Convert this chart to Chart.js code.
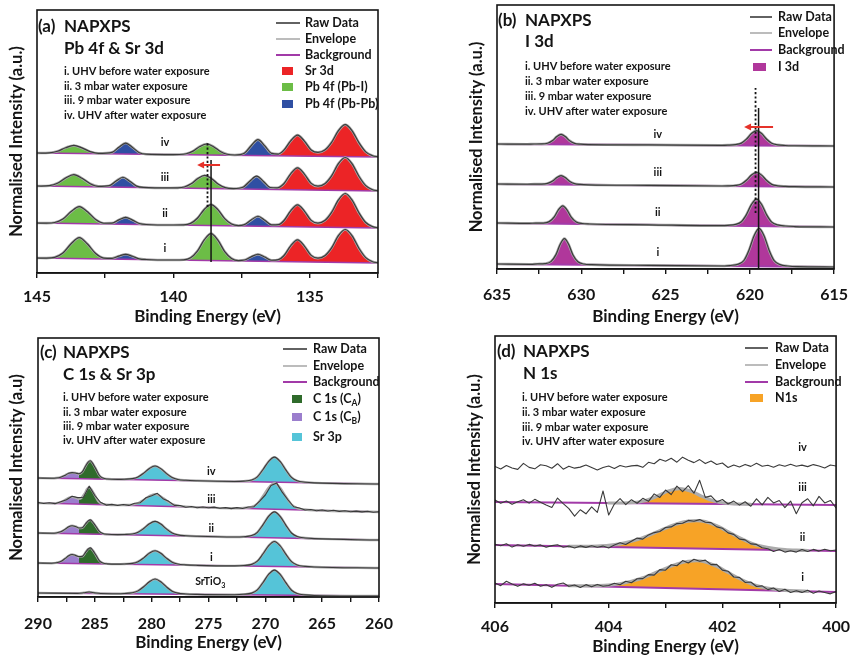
<!DOCTYPE html>
<html><head><meta charset="utf-8"><title>NAPXPS spectra</title>
<script src="https://cdn.jsdelivr.net/npm/chart.js@4.4.1/dist/chart.umd.min.js"></script>
<style>
html,body{margin:0;padding:0;background:#fff}
#wrap{position:relative;width:859px;height:657px;overflow:hidden;background:#fff}
#wrap canvas{position:absolute;left:0;top:0;width:859px;height:657px}
</style></head><body><div id="wrap">
<canvas id="ca" width="859" height="657"></canvas>
<canvas id="cb" width="859" height="657"></canvas>
<canvas id="cc" width="859" height="657"></canvas>
<canvas id="cd" width="859" height="657"></canvas>
</div>
<script>
// ------------------------------------------------------------------ DATA
const conditionText = ['i. UHV before water exposure','ii. 3 mbar water exposure','iii. 9 mbar water exposure','iv. UHV after water exposure'];
const traceNames = ['i','ii','iii','iv'];
const xTitle = 'Binding Energy (eV)';

// ---- (a) Pb 4f & Sr 3d : [binding energy, intensity above background]
const aBackground = [[15,10],[50,45],[87,82],[120,116]]; // at 145 eV and 132.5 eV
const aTrace_i = [[145,0],[144.65,0],[144.35,0.9],[144.05,5.3],[143.75,14.7],[143.45,21],[143.15,14.7],[142.85,5.3],[142.55,0.9],
 [142.25,0.8],[142.0,3.1],[141.75,5],[141.5,3.1],[141.25,0.7],[141.0,0.1],[140.0,0],
 [139.62,0.35],[139.37,2.4],[139.12,9.2],[138.87,20.5],[138.62,27],[138.37,20.5],[138.12,9.2],[137.87,2.4],[137.62,0.4],
 [137.4,1.0],[137.15,4.3],[136.9,7],[136.65,4.3],[136.4,1.2],[136.15,1.9],
 [135.95,5.9],[135.7,15.9],[135.45,22],[135.2,15.9],[134.95,6.6],[134.7,4.0],
 [134.45,6.5],[134.2,14.5],[133.95,26.8],[133.7,33],[133.45,26.8],[133.2,14.5],[132.95,5.2],[132.7,1.2],[132.5,0.2]];
const aTrace_ii = [[145,0],[144.65,0],[144.35,0.75],[144.05,4.3],[143.75,11.9],[143.45,17],[143.15,11.9],[142.85,4.3],[142.55,0.75],
 [142.25,1.0],[142.0,4.3],[141.75,7],[141.5,4.3],[141.25,1.0],[141.0,0.1],[140.0,0],
 [139.62,0.3],[139.37,1.85],[139.12,7.1],[138.87,16],[138.62,21],[138.37,16],[138.12,7.1],[137.87,1.85],[137.62,0.4],
 [137.4,1.4],[137.15,6.1],[136.9,10],[136.65,6.1],[136.4,1.6],[136.15,1.9],
 [135.95,5.9],[135.7,15.9],[135.45,22],[135.2,15.9],[134.95,6.6],[134.7,4.0],
 [134.45,6.7],[134.2,15],[133.95,27.5],[133.7,34],[133.45,27.5],[133.2,15],[132.95,5.3],[132.7,1.3],[132.5,0.2]];
const aTrace_iii = [[145,0],[144.85,0],[144.55,0.5],[144.25,3.0],[143.95,8.4],[143.65,12],[143.35,8.4],[143.05,3.0],[142.75,0.5],
 [142.35,1.35],[142.1,6.1],[141.85,10],[141.6,6.1],[141.35,1.35],[141.1,0.1],[140.1,0],
 [139.85,0.2],[139.6,1.15],[139.35,4.4],[139.1,9.9],[138.85,13],[138.6,9.9],[138.35,4.4],[138.1,1.15],[137.8,0.3],
 [137.45,1.75],[137.2,7.9],[136.95,13],[136.7,7.9],[136.45,1.9],[136.2,1.7],
 [135.95,5.9],[135.7,15.9],[135.45,22],[135.2,15.9],[134.95,6.6],[134.7,4.0],
 [134.45,6.5],[134.2,14.5],[133.95,26.8],[133.7,33],[133.45,26.8],[133.2,14.5],[132.95,5.2],[132.7,1.2],[132.5,0.2]];
const aTrace_iv = [[145,0],[144.85,0],[144.55,0.35],[144.25,2.0],[143.95,5.6],[143.65,8],[143.35,5.6],[143.05,2.0],[142.75,0.35],
 [142.25,1.5],[142.0,6.7],[141.75,11],[141.5,6.7],[141.25,1.5],[141.0,0.1],[140.0,0],
 [139.78,0.15],[139.53,1.0],[139.28,3.7],[139.03,8.4],[138.78,11],[138.53,8.4],[138.28,3.7],[138.03,1.0],[137.75,0.3],
 [137.4,2.2],[137.15,9.8],[136.9,16],[136.65,9.8],[136.4,2.4],[136.15,1.8],
 [135.95,5.7],[135.7,15.1],[135.45,21],[135.2,15.1],[134.95,6.3],[134.7,3.9],
 [134.45,6.3],[134.2,14.1],[133.95,25.9],[133.7,32],[133.45,25.9],[133.2,14.1],[132.95,5.0],[132.7,1.2],[132.5,0.2]];
const aComponentRanges = [[145,142.45,'Pb 4f (Pb-I)'],[142.45,140.3,'Pb 4f (Pb-Pb)'],[140.3,137.7,'Pb 4f (Pb-I)'],[137.7,136.3,'Pb 4f (Pb-Pb)'],[136.3,132.5,'Sr 3d']];
const aLegend = ['Raw Data','Envelope','Background','Sr 3d','Pb 4f (Pb-I)','Pb 4f (Pb-Pb)'];
const aLabelEnergy = 140.31;
const aLabelLevel = [25,60,96,131];
const aShift = {solid:138.62, solidFrom:11, solidTo:113, dotted:138.75, dottedFrom:66, dottedTo:130, arrowLevel:108, arrowFrom:138.29, arrowTo:139.13};

// ---- (b) I 3d
const bBackground = [[5,2],[46,42],[85,82],[125,123]]; // at 635 eV and 615 eV
const bTrace_i = [[635,0],[633,0],[632.6,0.4],[632.15,0.8],[631.8,2.9],[631.5,9.9],[631.25,20.3],[631.0,26],[630.75,20.3],[630.5,9.9],[630.2,2.9],[629.85,0.8],[629.4,0.2],[626,0],
 [621.5,0],[621.15,0.6],[620.7,1.9],[620.35,5.7],[620.05,16],[619.75,30.4],[619.45,38],[619.15,30.4],[618.85,16],[618.55,5.7],[618.2,1.9],[617.75,0.6],[617.2,0],[615,0]];
const bTrace_ii = [[635,0],[633.1,0],[632.7,0.3],[632.25,0.5],[631.9,2.0],[631.6,6.8],[631.35,14],[631.1,18],[630.85,14],[630.6,6.8],[630.3,2.0],[629.95,0.5],[629.5,0.1],[626,0],
 [621.65,0],[621.3,0.4],[620.85,1.4],[620.5,4.1],[620.2,11.3],[619.9,21.6],[619.6,27],[619.3,21.6],[619.0,11.3],[618.7,4.1],[618.35,1.4],[617.9,0.4],[617.35,0],[615,0]];
const bTrace_iii = [[635,0],[633.2,0],[632.8,0.2],[632.35,0.3],[632.0,1.0],[631.7,3.4],[631.45,7],[631.2,9],[630.95,7],[630.7,3.4],[630.4,1.0],[630.05,0.3],[629.6,0],[626,0],
 [621.65,0],[621.3,0.2],[620.85,0.7],[620.5,2.1],[620.2,5.9],[619.9,11.2],[619.6,14],[619.3,11.2],[619.0,5.9],[618.7,2.1],[618.35,0.7],[617.9,0.2],[617.35,0],[615,0]];
const bTrace_iv = [[635,0],[633.2,0],[632.8,0.2],[632.35,0.3],[632.0,1.1],[631.7,3.8],[631.45,7.8],[631.2,10],[630.95,7.8],[630.7,3.8],[630.4,1.1],[630.05,0.3],[629.6,0],[626,0],
 [621.65,0],[621.3,0.2],[620.85,0.8],[620.5,2.3],[620.2,6.3],[619.9,12],[619.6,15],[619.3,12],[619.0,6.3],[618.7,2.3],[618.35,0.8],[617.9,0.2],[617.35,0],[615,0]];
const bComponentRanges = [[635,615,'I 3d']];
const bLegend = ['Raw Data','Envelope','Background','I 3d'];
const bLabelEnergy = 625.46;
const bLabelLevel = [17,57,97,135];
const bShift = {solid:619.48, solidFrom:0, solidTo:161, dotted:619.66, dottedFrom:56, dottedTo:181, arrowLevel:142, arrowFrom:618.62, arrowTo:620.34};

// ---- (c) C 1s & Sr 3p
const cBackground = [[34,29],[64,57],[94,85],[119,113],[4,1]]; // i, ii, iii, iv, SrTiO3 at 290 eV and 260 eV
const cTrace_i = [[290,0],[288.8,0],[288.4,0.45],[288.0,1.8],[287.6,5],[287.3,7.7],[287.0,9],[286.7,8.2],[286.4,7.0],[286.1,7.3],[285.8,11.6],[285.6,14.5],[285.4,15.9],[285.15,13],[284.9,8.6],[284.6,3.1],[284.3,0.9],[283.9,0.15],[283.0,0],
 [282.4,0.3],[281.7,1.0],[281.2,2.8],[280.7,6.7],[280.2,11.5],[279.7,14],[279.2,11.5],[278.7,6.7],[278.2,2.8],[277.7,1.0],[277.0,0.3],[276.0,0],
 [272.7,0],[271.9,0.5],[271.2,1.75],[270.7,5],[270.2,12.5],[269.7,20.8],[269.2,25],[268.7,20.8],[268.2,12.5],[267.7,5],[267.2,1.75],[266.5,0.5],[265.7,0],[260,0]];
const cCB_i = [[288.8,0],[288.4,0.45],[288.0,1.8],[287.6,5],[287.3,7.7],[287.0,9],[286.7,7.7],[286.4,5],[286.1,2.3],[285.8,0.9],[285.4,0.2],[285.0,0]];
const cTrace_ii = [[290,0],[288.8,0],[288.4,0.4],[288.0,1.6],[287.6,4.4],[287.3,6.9],[287.0,8],[286.7,7.3],[286.4,5.9],[286.1,6.2],[285.8,10.3],[285.6,12.9],[285.4,14.2],[285.15,11.6],[284.9,7.7],[284.6,2.8],[284.3,0.8],[283.9,0.1],[283.0,0],
 [282.4,0.3],[281.7,1.0],[281.2,2.8],[280.7,6.7],[280.2,11.5],[279.7,14],[279.2,11.5],[278.7,6.7],[278.2,2.8],[277.7,1.0],[277.0,0.3],[276.0,0],
 [272.7,0],[271.9,0.5],[271.2,1.8],[270.7,5.2],[270.2,13],[269.7,21.6],[269.2,26],[268.7,21.6],[268.2,13],[267.7,5.2],[267.2,1.8],[266.5,0.5],[265.7,0],[260,0]];
const cCB_ii = [[288.8,0],[288.4,0.4],[288.0,1.6],[287.6,4.4],[287.3,6.9],[287.0,8],[286.7,6.9],[286.4,4.4],[286.1,2],[285.8,0.8],[285.4,0.2],[285.0,0]];
const cTrace_iii = [[290,0],[288.8,0],[288.4,0.35],[288.0,1.4],[287.6,3.9],[287.3,6],[287.0,7],[286.7,6.2],[286.4,5.3],[286.2,6.0],[285.9,10.5],[285.7,15],[285.5,17.2],[285.25,14.1],[285.0,9.4],[284.7,3.4],[284.4,1.0],[284.0,0.2],[283.0,0],
 [282.4,0.25],[281.7,0.9],[281.2,2.4],[280.7,5.8],[280.2,9.8],[279.7,12],[279.2,9.8],[278.7,5.8],[278.2,2.4],[277.7,0.9],[277.0,0.25],[276.0,0],
 [272.7,0],[271.9,0.5],[271.2,1.8],[270.7,5.2],[270.2,13],[269.7,21.6],[269.2,26],[268.7,21.6],[268.2,13],[267.7,5.2],[267.2,1.8],[266.5,0.5],[265.7,0],[260,0]];
const cCB_iii = [[288.8,0],[288.4,0.35],[288.0,1.4],[287.6,3.9],[287.3,6],[287.0,7],[286.7,6],[286.4,3.9],[286.1,1.8],[285.8,0.7],[285.4,0.15],[285.0,0]];
const cRaw_iii = [[290,0.5],[289.5,-0.4],[289,0.6],[288.5,-0.2],[288,1.9],[287.5,4.0],[287,7.6],[286.5,6.4],[286,7.0],[285.5,18.2],[285,9.0],[284.5,2.4],[284,-0.3],[283.5,0.6],[283,-0.4],
 [282.5,0.8],[282,0.0],[281.5,2.3],[281,3.0],[280.5,8.1],[280,10.3],[279.5,12.8],[279,7.6],[278.5,5.1],[278,1.2],[277.5,1.3],[277,-0.4],[276.5,0.5],[276,-0.5],[275.5,0.4],
 [275,-0.3],[274.5,0.5],[274,-0.4],[273.5,0.3],[273,-0.5],[272.5,0.6],[272,-0.1],[271.5,1.6],[271,2.0],[270.5,7.8],[270,14.0],[269.5,23.6],[269,26.2],[268.5,17.0],[268,9.6],
 [267.5,3.0],[267,1.9],[266.5,0.0],[266,0.7],[265.5,-0.4],[265,0.5],[264.5,-0.3],[264,0.6],[263.5,-0.4],[263,0.4],[262.5,-0.5],[262,0.3],[261.5,-0.3],[261,0.5],[260.5,-0.4],[260,0.2]];
const cTrace_iv = [[290,0],[288.8,0],[288.4,0.3],[288.0,1.2],[287.6,3.3],[287.3,5.2],[287.0,6],[286.7,5.7],[286.4,4.9],[286.1,6.9],[285.8,13],[285.6,16.6],[285.4,18.2],[285.15,14.9],[284.9,9.9],[284.6,3.6],[284.3,1.1],[283.9,0.2],[283.0,0],
 [282.4,0.3],[281.7,1.0],[281.2,2.8],[280.7,6.7],[280.2,11.5],[279.7,14],[279.2,11.5],[278.7,6.7],[278.2,2.8],[277.7,1.0],[277.0,0.3],[276.0,0],
 [272.7,0],[271.9,0.5],[271.2,1.75],[270.7,5],[270.2,12.5],[269.7,20.8],[269.2,25],[268.7,20.8],[268.2,12.5],[267.7,5],[267.2,1.75],[266.5,0.5],[265.7,0],[260,0]];
const cCB_iv = [[288.8,0],[288.4,0.3],[288.0,1.2],[287.6,3.3],[287.3,5.2],[287.0,6],[286.7,5.2],[286.4,3.3],[286.1,1.5],[285.8,0.6],[285.4,0.1],[285.0,0]];
const cTrace_SrTiO3 = [[290,0],[286.5,0],[286.0,0.6],[285.5,1.5],[285.0,0.6],[284.5,0],[283.0,0],
 [282.4,0.3],[281.7,1.1],[281.2,3.0],[280.7,7.2],[280.2,12.3],[279.7,15],[279.2,12.3],[278.7,7.2],[278.2,3.0],[277.7,1.1],[277.0,0.3],[276.0,0],
 [272.7,0],[271.9,0.5],[271.2,1.75],[270.7,5],[270.2,12.5],[269.7,20.8],[269.2,25],[268.7,20.8],[268.2,12.5],[267.7,5],[267.2,1.75],[266.5,0.5],[265.7,0],[260,0]];
const cComponentRanges = [[286.3,283.5,'C 1s (CA)'],[283.0,260,'Sr 3p']];
const cLegend = ['Raw Data','Envelope','Background','C 1s (CA)','C 1s (CB)','Sr 3p'];
const cLabelEnergy = 274.75;
const cLabelLevel = [40,69,98,126];
const cSubstrateLabel = {energy:274.85, level:15};

// ---- (d) N 1s
const dBackground = [[19,11],[58,52],[101,98],[136,137.5]]; // at 406 eV and 400 eV
const dEnergy = [406.0,405.9,405.8,405.7,405.6,405.5,405.4,405.3,405.2,405.1,
 405.0,404.9,404.8,404.7,404.6,404.5,404.4,404.3,404.2,404.1,
 404.0,403.9,403.8,403.7,403.6,403.5,403.4,403.3,403.2,403.1,
 403.0,402.9,402.8,402.7,402.6,402.5,402.4,402.3,402.2,402.1,
 402.0,401.9,401.8,401.7,401.6,401.5,401.4,401.3,401.2,401.1,
 401.0,400.9,400.8,400.7,400.6,400.5,400.4,400.3,400.2,400.1,400.0];
const dRaw_i = [1.0,-1.5,3.0,0.5,-1.8,0.8,-0.5,1.6,-1.2,0.4,
 -2.0,1.2,2.6,-0.6,0.9,-1.4,1.5,-0.4,2.0,0.3,
 1.2,3.6,2.2,5.8,4.5,8.6,8.8,13.0,12.6,18.2,
 17.8,23.4,22.5,27.8,25.6,29.4,27.6,28.8,24.4,24.8,
 19.2,18.3,12.6,12.4,7.4,8.0,3.6,4.4,0.8,2.6,
 -0.8,1.5,-1.6,0.4,-1.2,1.0,-1.8,0.6,-0.7,-2.0,0.5];
const dRaw_ii = [0.8,-0.6,1.5,-1.8,0.6,-0.8,1.2,-0.3,0.9,-1.4,
 0.4,1.3,-1.0,0.2,-1.5,0.6,-0.8,1.0,-0.4,0.8,
 -0.9,2.2,4.5,2.8,6.2,9.4,8.5,12.8,15.2,16.4,
 20.5,21.2,24.6,25.0,28.0,27.2,29.0,26.4,26.2,22.0,
 20.8,16.2,14.8,10.2,9.5,5.6,5.2,2.0,1.0,-1.5,
 0.4,-2.0,-0.5,-1.8,0.8,-0.9,1.2,-0.4,1.6,0.2,1.0];
const dRaw_iii = [2.0,-1.2,1.0,-2.2,0.5,2.5,-0.8,3.0,0.2,-2.5,
 -5.0,4.5,-1.0,-6.0,-13.5,-7.0,-11.0,-4.0,-9.5,12.0,
 -12.0,-1.0,4.5,-1.5,3.5,0.0,5.0,2.0,9.5,6.0,
 13.5,9.0,17.5,12.0,18.0,10.5,23.5,6.5,8.0,2.0,
 4.5,0.0,3.0,-1.0,2.5,-2.0,5.5,-0.5,7.0,1.5,
 4.0,-3.0,3.5,-9.0,2.0,6.0,-1.0,8.5,2.0,4.5,-3.0];
const dRaw_iv = [0.5,-2.0,1.5,-1.0,-2.5,3.5,-0.5,-2.0,2.0,1.0,
 -1.5,3.0,-2.5,0.5,-1.5,-0.5,1.5,-1.0,-3.5,-1.0,
 0.5,-2.0,1.0,-0.5,0.5,1.0,-1.0,4.0,2.5,7.0,
 5.0,8.0,4.0,9.0,6.0,3.5,6.5,2.5,5.0,1.5,
 3.0,-1.5,1.0,-1.0,1.5,-0.5,2.5,-0.5,0.5,-1.5,
 1.0,-0.5,1.5,-0.5,0.5,-1.0,1.0,-0.5,-2.5,0.5,-0.5];
const dEnv_i = [[404.7,0],[404.4,0.3],[404.2,0.8],[404.0,1.6],[403.8,3.2],[403.6,5.9],[403.4,9.6],[403.2,14.4],[403.0,19.6],[402.8,24.2],[402.6,27.3],[402.45,28],[402.3,27.0],[402.1,22.9],[401.9,17.0],[401.7,11.1],[401.5,6.3],[401.3,3.1],[401.1,1.4],[400.9,0.5],[400.7,0.1],[400.5,0]];
const dEnv_ii = [[404.7,0],[404.4,0.3],[404.2,0.8],[404.0,1.7],[403.8,3.4],[403.6,6.1],[403.4,9.9],[403.2,14.7],[403.0,19.8],[402.8,24.3],[402.6,27.3],[402.45,28],[402.3,27.1],[402.1,23.2],[401.9,17.4],[401.7,11.5],[401.5,6.6],[401.3,3.3],[401.1,1.5],[400.9,0.5],[400.7,0.1],[400.5,0]];
const dEnv_iii = [[404.0,0],[403.75,0.15],[403.55,0.75],[403.35,2.9],[403.15,7.2],[402.95,12.5],[402.75,15],[402.55,12.5],[402.35,7.2],[402.15,2.9],[401.95,0.75],[401.75,0.15],[401.5,0]];
const dComponentRanges = [[406,400,'N1s']];
const dLegend = ['Raw Data','Envelope','Background','N1s'];
const dLabelEnergy = 400.59;
const dLabelLevel = [26,66,116,156];

// ------------------------------------------------------------------ STYLE
const FONT = 'Lato, "Open Sans", "DejaVu Sans", sans-serif';
const INK = '#141414';
const RAW_COLOR = '#3a3a3a', ENV_COLOR = '#ababab', BG_COLOR = '#a23aa8', ARROW_COLOR = '#e5322a';
const COLORS = {'Sr 3d':'#ec2426','Pb 4f (Pb-I)':'#6cbd46','Pb 4f (Pb-Pb)':'#2f4fa3','I 3d':'#b0379b',
  'C 1s (CA)':'#2f6b2b','C 1s (CB)':'#9b7ecd','Sr 3p':'#55c4d8','N1s':'#f7a326'};
const LINE_COLORS = {'Raw Data':RAW_COLOR,'Envelope':ENV_COLOR,'Background':BG_COLOR};
function labelParts(name){
  if (name==='C 1s (CA)') return [['C 1s (C',0],['A',1],[')',0]];
  if (name==='C 1s (CB)') return [['C 1s (C',0],['B',1],[')',0]];
  return [[name,0]];
}

// ------------------------------------------------------------------ HELPERS
function place(pts, bg, P){
  return pts.map(p => ({x:p[0], y: bg[0] + (bg[1]-bg[0])*(P.xFrom-p[0])/(P.xFrom-P.xTo) + p[1]}));
}
function cut(pts, hi, lo){
  let s = pts.findIndex(p => p[0] <= hi); let e = -1;
  pts.forEach((p,i) => { if (p[0] >= lo) e = i; });
  s = Math.max(0, s-1); e = Math.min(pts.length-1, e+1);
  return pts.slice(s, e+1);
}
function partsFrom(ranges){ return ranges.map(r => ({hi:r[0], lo:r[1], color:COLORS[r[2]], order:5})); }
function pairs(energy, vals){ return energy.map((E,k) => [E, vals[k]]); }

function buildDatasets(P){
  const ds = [];
  P.traces.forEach(t => {
    const bgIdx = ds.length;
    ds.push({data:[{x:P.xFrom,y:t.bg[0]},{x:P.xTo,y:t.bg[1]}], borderColor: t.noBg ? 'rgba(0,0,0,0)' : BG_COLOR,
      borderWidth:P.bgWidth, fill:false, order:3, tension:0});
    (t.parts || []).forEach(pt => {
      const src = pt.pts ? pt.pts : cut(t.env, pt.hi, pt.lo);
      ds.push({data:place(src, t.bg, P), borderColor:'rgba(0,0,0,0)', borderWidth:0, backgroundColor:pt.color,
        fill:bgIdx, order:pt.order, cubicInterpolationMode:'monotone'});
    });
    if (t.env) ds.push({data:place(t.env, t.bg, P), borderColor:ENV_COLOR, borderWidth:P.envWidth, fill:false, order:2, cubicInterpolationMode:'monotone'});
    const rawSrc = t.raw || t.env;
    const rawDs = {data:place(rawSrc, t.bg, P), borderColor:RAW_COLOR, borderWidth:P.rawWidth, fill:false, order:1};
    if (t.raw) rawDs.tension = 0; else rawDs.cubicInterpolationMode = 'monotone';
    ds.push(rawDs);
  });
  return ds;
}

function richWidth(ctx, parts, size){
  let w = 0;
  parts.forEach(([s,sub]) => { ctx.font = `bold ${sub ? size*0.68 : size}px ${FONT}`; w += ctx.measureText(s).width; });
  return w;
}
function drawRich(ctx, parts, x, y, size, align){
  const w = richWidth(ctx, parts, size);
  let cx = align === 'center' ? x - w/2 : x;
  ctx.textAlign = 'left';
  parts.forEach(([s,sub]) => {
    ctx.font = `bold ${sub ? size*0.68 : size}px ${FONT}`;
    ctx.fillText(s, cx, sub ? y + size*0.32 : y);
    cx += ctx.measureText(s).width;
  });
}

function overlay(P){
  return {id:'overlay_'+P.key, afterDraw(chart){
    const ctx = chart.ctx, xs = chart.scales.x, ys = chart.scales.y, a = chart.chartArea, T = P.text;
    ctx.save();
    if (P.shift){
      const S = P.shift;
      ctx.strokeStyle = INK;
      ctx.lineWidth = 1.5; ctx.setLineDash([]);
      ctx.beginPath(); ctx.moveTo(xs.getPixelForValue(S.solid), ys.getPixelForValue(S.solidFrom));
      ctx.lineTo(xs.getPixelForValue(S.solid), ys.getPixelForValue(S.solidTo)); ctx.stroke();
      ctx.lineWidth = 1.8; ctx.setLineDash([2.2,2.2]);
      ctx.beginPath(); ctx.moveTo(xs.getPixelForValue(S.dotted), ys.getPixelForValue(S.dottedFrom));
      ctx.lineTo(xs.getPixelForValue(S.dotted), ys.getPixelForValue(S.dottedTo)); ctx.stroke();
      ctx.setLineDash([]);
      const ay = ys.getPixelForValue(S.arrowLevel), ax0 = xs.getPixelForValue(S.arrowFrom), ax1 = xs.getPixelForValue(S.arrowTo);
      ctx.strokeStyle = ARROW_COLOR; ctx.fillStyle = ARROW_COLOR; ctx.lineWidth = 2;
      ctx.beginPath(); ctx.moveTo(ax0, ay); ctx.lineTo(ax1 + 5, ay); ctx.stroke();
      ctx.beginPath(); ctx.moveTo(ax1, ay); ctx.lineTo(ax1 + 7, ay - 3.5); ctx.lineTo(ax1 + 7, ay + 3.5); ctx.closePath(); ctx.fill();
    }
    ctx.strokeStyle = INK; ctx.lineWidth = 1.6;
    ctx.strokeRect(a.left, a.top, a.right - a.left, a.bottom - a.top);
    ctx.fillStyle = INK; ctx.textBaseline = 'middle'; ctx.textAlign = 'left';
    ctx.font = `bold 17px ${FONT}`;
    ctx.fillText(P.letter, T.letterX, T.titleY);
    ctx.fillText('NAPXPS', T.textX, T.titleY);
    ctx.fillText(P.subtitle, T.textX, T.subY);
    ctx.font = `bold 11px ${FONT}`;
    conditionText.forEach((s,i) => ctx.fillText(s, T.condX, T.condY[i]));
    P.legend.forEach((name, i) => {
      const y = T.legY[i];
      if (LINE_COLORS[name]){
        ctx.strokeStyle = LINE_COLORS[name]; ctx.lineWidth = name === 'Background' ? 2 : 1.6;
        ctx.beginPath(); ctx.moveTo(T.legLine[0], y); ctx.lineTo(T.legLine[1], y); ctx.stroke();
      } else {
        ctx.fillStyle = COLORS[name];
        ctx.fillRect(T.legBox[0], y - 4, T.legBox[1] - T.legBox[0], 8);
      }
      ctx.fillStyle = INK;
      drawRich(ctx, labelParts(name), T.legTextX, y, 12.5, 'left');
    });
    ctx.fillStyle = INK;
    P.labelLevel.forEach((lv, i) => {
      drawRich(ctx, [[traceNames[i],0]], xs.getPixelForValue(P.labelEnergy), ys.getPixelForValue(lv), 11, 'center');
    });
    if (P.substrate){
      drawRich(ctx, [['SrTiO',0],['3',1]], xs.getPixelForValue(P.substrate.energy), ys.getPixelForValue(P.substrate.level), 10.5, 'center');
    }
    ctx.restore();
  }};
}

function makeChart(P){
  const A = P.area;
  new Chart(document.getElementById(P.canvas), {
    type:'line',
    data:{datasets: buildDatasets(P)},
    options:{
      responsive:false, animation:false, devicePixelRatio:1, events:[],
      layout:{padding:{left:A.l - P.yW, right:859 - A.r, top:A.t, bottom:657 - A.b - P.xH}},
      plugins:{legend:{display:false}, tooltip:{enabled:false}},
      elements:{point:{radius:0, hoverRadius:0}, line:{borderJoinStyle:'round', borderCapStyle:'round'}},
      scales:{
        x:{type:'linear', reverse:true, min:P.xTo, max:P.xFrom,
          ticks:{stepSize:P.step, maxTicksLimit:100, autoSkip:false, maxRotation:0, color:INK, padding:P.tickPad,
            font:{family:FONT, size:16, weight:'bold'},
            callback:(v) => (Math.abs(v % P.major) < 1e-6 ? String(v) : '')},
          grid:{drawOnChartArea:false, drawTicks:true, tickLength:5, color:INK, lineWidth:1.4},
          border:{display:true, color:INK, width:1.6},
          title:{display:true, text:xTitle, color:INK, padding:{top:0,bottom:0}, font:{family:FONT, size:17, weight:'bold'}},
          afterFit:(s) => { s.height = P.xH; }
        },
        y:{type:'linear', min:0, max:P.yMax,
          ticks:{display:false}, grid:{display:false}, border:{display:false},
          title:{display:true, text:P.yTitle, color:INK, padding:{top:0,bottom:0}, font:{family:FONT, size:16.5, weight:'bold'}},
          afterFit:(s) => { s.width = P.yW; }
        }
      }
    },
    plugins:[overlay(P)]
  });
}

// ------------------------------------------------------------------ PANELS
const partsA = partsFrom(aComponentRanges);
const panelA = {key:'a', canvas:'ca', letter:'(a)', subtitle:'Pb 4f & Sr 3d', yTitle:'Normalised Intensity (a.u.)',
  xFrom:145, xTo:132.5, yMax:263, step:2.5, major:5, area:{l:37,r:378,t:10,b:273}, yW:30, xH:54, tickPad:9,
  bgWidth:1.6, envWidth:2.6, rawWidth:1.2,
  traces:[aTrace_i,aTrace_ii,aTrace_iii,aTrace_iv].map((tr,i) => ({bg:aBackground[i], env:tr, parts:partsA})),
  legend:aLegend, labelEnergy:aLabelEnergy, labelLevel:aLabelLevel, shift:aShift,
  text:{letterX:38, textX:64, titleY:27, subY:49, condX:64, condY:[71,86,100,115], legLine:[276,300], legTextX:305, legBox:[282,293], legY:[23,39,55,71,87,104]}};

const partsB = partsFrom(bComponentRanges);
const panelB = {key:'b', canvas:'cb', letter:'(b)', subtitle:'I 3d', yTitle:'Normalised Intensity (a.u.)',
  xFrom:635, xTo:615, yMax:264, step:2.5, major:5, area:{l:497,r:845,t:5,b:269}, yW:30, xH:58, tickPad:11,
  bgWidth:2, envWidth:2.6, rawWidth:1.2,
  traces:[bTrace_i,bTrace_ii,bTrace_iii,bTrace_iv].map((tr,i) => ({bg:bBackground[i], env:tr, parts:partsB})),
  legend:bLegend, labelEnergy:bLabelEnergy, labelLevel:bLabelLevel, shift:bShift,
  text:{letterX:498, textX:525, titleY:21, subY:42, condX:525, condY:[66,81,96,111], legLine:[750,772], legTextX:778, legBox:[753,766], legY:[17,33,50,67]}};

const partsC = partsFrom(cComponentRanges);
const cbColor = COLORS['C 1s (CB)'];
const panelC = {key:'c', canvas:'cc', letter:'(c)', subtitle:'C 1s & Sr 3p', yTitle:'Normalised Intensity (a.u)',
  xFrom:290, xTo:260, yMax:259, step:2.5, major:5, area:{l:38,r:379,t:338,b:597}, yW:31, xH:56, tickPad:12,
  bgWidth:1.6, envWidth:2.4, rawWidth:1.1,
  traces:[
    {bg:cBackground[0], env:cTrace_i, parts:[{pts:cCB_i, color:cbColor, order:6}].concat(partsC)},
    {bg:cBackground[1], env:cTrace_ii, parts:[{pts:cCB_ii, color:cbColor, order:6}].concat(partsC)},
    {bg:cBackground[2], env:cTrace_iii, raw:cRaw_iii, parts:[{pts:cCB_iii, color:cbColor, order:6}].concat(partsC)},
    {bg:cBackground[3], env:cTrace_iv, parts:[{pts:cCB_iv, color:cbColor, order:6}].concat(partsC)},
    {bg:cBackground[4], env:cTrace_SrTiO3, parts:[partsC[1]]}
  ],
  legend:cLegend, labelEnergy:cLabelEnergy, labelLevel:cLabelLevel, substrate:cSubstrateLabel,
  text:{letterX:40, textX:63, titleY:353, subY:375, condX:63, condY:[397,412,426,440], legLine:[283,307], legTextX:313, legBox:[292,302], legY:[349,366,382,399,417,437]}};

const partsD = partsFrom(dComponentRanges);
const panelD = {key:'d', canvas:'cd', letter:'(d)', subtitle:'N 1s', yTitle:'Normalised Intensity (a.u.)',
  xFrom:406, xTo:400, yMax:267, step:1, major:2, area:{l:495,r:843,t:336,b:603}, yW:30, xH:54, tickPad:9,
  bgWidth:2, envWidth:3.2, rawWidth:1.1,
  traces:[
    {bg:dBackground[0], env:dEnv_i, raw:pairs(dEnergy,dRaw_i), parts:partsD},
    {bg:dBackground[1], env:dEnv_ii, raw:pairs(dEnergy,dRaw_ii), parts:partsD},
    {bg:dBackground[2], env:dEnv_iii, raw:pairs(dEnergy,dRaw_iii), parts:partsD},
    {bg:dBackground[3], raw:pairs(dEnergy,dRaw_iv), noBg:true}
  ],
  legend:dLegend, labelEnergy:dLabelEnergy, labelLevel:dLabelLevel,
  text:{letterX:497, textX:523, titleY:352, subY:374, condX:522, condY:[397,412,427,441], legLine:[745,768], legTextX:775, legBox:[750,763], legY:[348,365,382,398]}};

Chart.defaults.font.family = FONT;
[panelA, panelB, panelC, panelD].forEach(makeChart);
</script></body></html>
